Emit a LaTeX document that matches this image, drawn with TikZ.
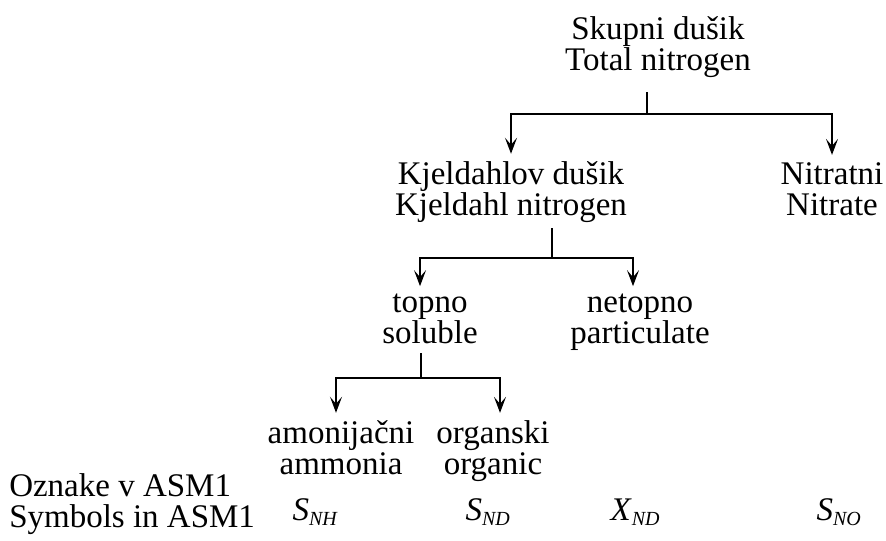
\documentclass[tikz,border=0pt]{standalone}
\usepackage{fontspec}
\setmainfont{Liberation Serif}
\usepackage{tikz}
\usetikzlibrary{arrows.meta}
\usetikzlibrary{positioning}
\newcommand{\asmsym}[2]{\textit{#1}\raisebox{-2.5pt}{\fontsize{10}{10}\selectfont\textit{#2}}}

\begin{document}
\begin{tikzpicture}[
    x=0.5pt, y=-0.5pt,
    line width=0.6pt,
    >={Stealth[length=8pt,width=6pt,inset=3.5pt]},
    txt/.style={%
      align=center,
      font=\fontsize{16.5}{15.5}\selectfont,
      anchor=base,
    },
    sym/.style={%
      font=\fontsize{16.5}{15.5}\selectfont,
      anchor=base west,
      inner sep=0pt,
    },
  ]
    \useasboundingbox (0,0) rectangle (886,540);

    \node [txt] (total) at (658,70) {Skupni dušik\\Total nitrogen};
    \path (total.base) ++(-147,145) node [txt] (kjeldahl) {Kjeldahlov dušik\\Kjeldahl nitrogen};
    \path (total.base) ++(174,145) node [txt] (nitrate) {Nitratni\\Nitrate};
    \path (kjeldahl.base) ++(-81,128) node [txt] (soluble) {topno\\soluble};
    \path (kjeldahl.base) ++(129,128) node [txt] (particulate) {netopno\\particulate};
    \path (soluble.base) ++(-89,131) node [txt] (ammonia) {amonijačni\\ammonia};
    \path (soluble.base) ++(63,131) node [txt] (organic) {organski\\organic};

    \node [txt,align=left,anchor=base west] (asm) at (2,527) {Oznake v ASM1\\Symbols in ASM1};
    \node [sym] (snh) at (292,520) {\asmsym{S}{NH}};
    \node [sym] (snd) at (465,520) {\asmsym{S}{ND}};
    \node [sym] (xnd) at (610,520) {\asmsym{X}{ND}};
    \node [sym] (sno) at (816,520) {\asmsym{S}{NO}};

    \coordinate (t1) at (647,92);
    \coordinate (t2) at (647,114);
    \coordinate (k1) at (552,228);
    \coordinate (k2) at (552,258);
    \coordinate (s1) at (421,353);
    \coordinate (s2) at (421,378);

    \draw (t1) -- (t2);
    \draw [->] (t2) -| (kjeldahl);
    \draw [->] (t2) -| (nitrate);
    \draw (k1) -- (k2);
    \draw [->] (k2) -| ([xshift=-5pt]soluble.north);
    \draw [->] (k2) -| ([xshift=-3.5pt]particulate.north);
    \draw (s1) -- (s2);
    \draw [->] (s2) -| ([xshift=-2.5pt]ammonia.north);
    \draw [->] (s2) -| ([xshift=3.5pt]organic.north);
\end{tikzpicture}
\end{document}
